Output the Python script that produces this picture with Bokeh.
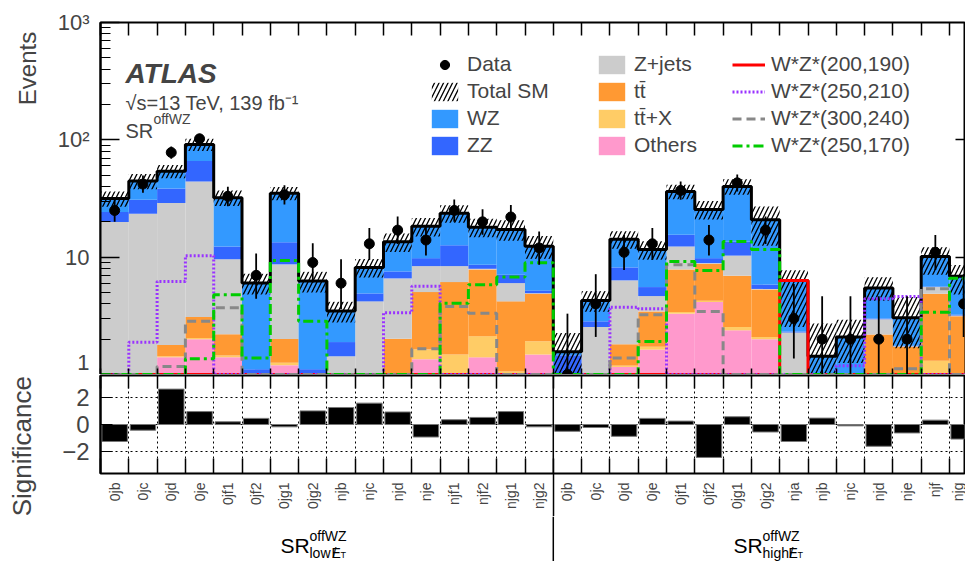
import numpy as np
from bokeh.plotting import figure
from bokeh.models import (Range1d, LogAxis, LinearAxis, FixedTicker, Legend,
                          LegendItem, Label, Span)
from bokeh.layouts import column
from bokeh.embed import file_html
from bokeh.resources import INLINE
from bokeh.core.properties import value

FONT = "Liberation Sans"
NBSP = "\u00a0"

# ---------------- data ----------------
low_bins = ["0jb", "0jc", "0jd", "0je", "0jf1", "0jf2", "0jg1", "0jg2",
            "njb", "njc", "njd", "nje", "njf1", "njf2", "njg1", "njg2"]
high_bins = ["0jb", "0jc", "0jd", "0je", "0jf1", "0jf2", "0jg1", "0jg2",
             "nja", "njb", "njc", "njd", "nje", "njf", "njg"]
bin_labels = low_bins + high_bins

# background components (events per bin), stacking order bottom -> top
others = [0.3, 0.4, 1.39, 1.99, 1.39, 0.3, 1.19, 0.3, 0.2, 0.2, 0.4, 1.34, 0.6, 1.39, 0.5, 1.47,
          0.1, 0.2, 1.15, 1.62, 3.29, 4.14, 2.37, 1.99, 0.1, 0.1, 0.1, 0.2, 0.2, 0.5, 0.3]
ttx = [0.05, 0.05, 0.03, 0.05, 0.05, 0.05, 0.06, 0.05, 0.05, 0.1, 0.3, 0.28, 0.87, 0.72, 0.55, 0.44,
       0.05, 0.05, 0.03, 0.09, 0.11, 0.1, 0.16, 0.09, 0.05, 0.02, 0.02, 0.1, 0.1, 0.8, 0.3]
ttbar = [0.2, 0.3, 0.35, 1.04, 0.75, 0.2, 0.75, 0.25, 0.3, 0.4, 1.31, 3.41, 4.65, 5.74, 3.14, 2.96,
         0.1, 0.2, 0.62, 1.73, 4.45, 4.55, 4.41, 3.22, 0.1, 0.1, 0.2, 1.88, 1.41, 3.57, 2.52]
zjets = [19.35, 22.65, 27.1, 41.1, 7.4, 0.3, 6.67, 0.3, 0.87, 3.49, 4.57, 3.35, 2.26, 0.1, 1.81, 0.05,
         0.1, 2.08, 4.53, 1.21, 4.45, 0.1, 3.36, 0.05, 2.02, 0.1, 0.1, 0.76, 0.02, 0.68, 0.05]
zz = [4.3, 7.5, 9.6, 21.7, 2.7, 0.25, 4.73, 0.2, 0.46, 0.71, 0.97, 1.42, 4.22, 0.66, 1.08, 0.28,
      1.1, 0.3, 1.84, 0.9, 3.2, 0.91, 3.3, 0.5, 0.05, 0.2, 0.3, 0.05, 0.02, 0.05, 0.05]
wz = [7.4, 13.6, 15.6, 25.5, 19.8, 4.9, 21.7, 5.14, 1.58, 3.27, 5.95, 8.5, 11.1, 9.39, 10.12, 7.2,
      0.1, 1.44, 6.03, 6.05, 20.8, 15.7, 26.5, 14.95, 4.01, 0.9, 1.36, 2.45, 1.29, 4.5, 3.63]
# relative total-SM uncertainty (up / down)
unc_up = [0.15, 0.15, 0.13, 0.12, 0.15, 0.2, 0.13, 0.2, 0.2, 0.18, 0.18, 0.18, 0.17, 0.18, 0.2, 0.22,
          0.45, 0.2, 0.17, 0.18, 0.14, 0.18, 0.15, 0.3, 0.22, 0.9, 0.4, 0.24, 0.5, 0.2, 0.25]
unc_dn = [0.15, 0.15, 0.13, 0.12, 0.15, 0.2, 0.13, 0.2, 0.2, 0.18, 0.18, 0.18, 0.17, 0.18, 0.2, 0.22,
          0.45, 0.2, 0.17, 0.18, 0.14, 0.18, 0.15, 0.4, 0.6, 0.5, 0.4, 0.22, 0.45, 0.3, 0.3]

data = [25, 42, 78, 102, 33, 7, 34, 9, 6, 13, 17, 14, 25, 20, 22, 12,
        1, 4, 11, 13, 37, 14, 43, 17, 3, 2, 2, 2, 2, 11, 4]
data_lo = [19.99, 35.43, 69.04, 91.95, 27.22, 4.42, 28.13, 6.08, 3.62, 9.47, 12.93, 10.33, 19.99, 15.56, 17.33, 8.61,
           0.17, 2.09, 7.77, 9.47, 30.86, 10.33, 36.35, 12.93, 1.37, 0.71, 0.71, 0.71, 0.71, 7.77, 2.09]
data_hi = [31.08, 49.61, 87.87, 112.8, 39.84, 10.77, 40.93, 13.11, 9.58, 17.70, 22.18, 18.83, 31.08, 25.55, 27.77, 16.56,
           3.30, 7.16, 15.42, 17.70, 44.20, 18.83, 50.69, 22.18, 5.92, 4.64, 4.64, 4.64, 4.64, 15.42, 7.16]

significance = [-1.25, -0.42, 2.6, 0.95, 0.2, 0.45, -0.17, 1.0, 1.25, 1.57, 0.92, -0.92, 0.35, 0.52, 0.95, -0.17,
                -0.5, -0.22, -0.87, 0.45, 0.25, -2.42, 0.57, -0.55, -1.25, 0.47, -0.1, -1.6, -0.62, 0.32, -1.07]

sig_200_190 = [0.5] * 24 + [6.33] + [0.5] * 6
sig_250_210 = [0.3, 1.88, 6.21, 10.3, 0.5, 0.3, 0.3, 0.3, 0.3, 0.5, 3.36, 5.66, 0.5, 0.5, 0.3, 0.3,
               0.3, 0.3, 3.75, 3.63, 0.5, 0.3, 0.3, 0.3, 0.3, 0.5, 1.19, 4.42, 4.62, 0.5, 0.3]
sig_300_240 = [0.2, 0.3, 1.17, 2.85, 3.7, 0.5, 0.3, 0.3, 0.2, 0.3, 0.5, 1.66, 3.8, 3.33, 0.5, 0.3,
               0.2, 0.3, 1.38, 3.23, 8.6, 3.44, 0.5, 0.3, 0.2, 0.3, 0.5, 0.5, 1.12, 5.38, 0.5]
sig_250_170 = [0.3, 0.3, 0.3, 1.36, 4.78, 1.38, 9.37, 2.85, 0.5, 0.3, 0.3, 0.5, 4.05, 5.82, 6.76, 8.96,
               0.5, 0.3, 0.3, 1.91, 9.19, 7.7, 13.6, 11.6, 0.5, 0.3, 0.3, 0.3, 0.5, 3.4, 6.62]

# ---------------- helpers ----------------
n = len(bin_labels)
edges = np.arange(n + 1, dtype=float)
centers = edges[:-1] + 0.5
YMIN, YMAX = 1.0, 1000.0
XMAX = 30.53
SMIN, SMAX = -3.6, 3.6
N_LOW = len(low_bins)
DIVIDER_LEN = 43


def step_xy(vals):
    xs = np.repeat(edges, 2)[1:-1]
    ys = np.repeat(np.asarray(vals, dtype=float), 2)
    return xs, ys


def style_outline(p):
    p.outline_line_color = "black"
    p.outline_line_width = 2
    p.grid.visible = False
    p.background_fill_color = "white"
    p.border_fill_color = "white"


def tick_only(ax, positions, length_in, length_out=0, width=1.5):
    """Axis that only draws tick marks (as minor ticks, no labels)."""
    ax.ticker = FixedTicker(ticks=[], minor_ticks=list(positions))
    ax.minor_tick_in = length_in
    ax.minor_tick_out = length_out
    ax.minor_tick_line_width = width
    ax.minor_tick_line_color = "black"
    ax.major_tick_in = 0
    ax.major_tick_out = 0
    ax.major_label_standoff = 0
    ax.axis_line_color = None
    return ax


# ---------------- main panel ----------------
p1 = figure(width=965, height=374, x_range=Range1d(0, XMAX), y_range=Range1d(YMIN, YMAX),
            y_axis_type="log", output_backend="svg", toolbar_location=None,
            min_border_left=100, min_border_right=1, min_border_top=22, min_border_bottom=0)
style_outline(p1)

decade_minor = [m * 10 ** e for e in range(0, 3) for m in range(2, 10)]

ly = p1.yaxis[0]
ly.ticker = FixedTicker(ticks=[1, 10, 100, 1000], minor_ticks=decade_minor)
ly.major_label_overrides = {1: "1", 10: "10", 100: "10²", 1000: "10³"}
ly.major_label_text_font = FONT
ly.major_label_text_font_size = "22px"
ly.major_tick_in = 19
ly.major_tick_out = 0
ly.minor_tick_in = 10
ly.minor_tick_out = 0
ly.major_tick_line_width = 1.5
ly.minor_tick_line_width = 1.2
ly.axis_line_width = 2
ly.major_label_standoff = 11
# title pushed to the top end of the axis (ROOT style) with leading no-break spaces
ly.axis_label = NBSP * 39 + "Events"
ly.axis_label_text_font = FONT
ly.axis_label_text_font_size = "24px"
ly.axis_label_text_font_style = "normal"
ly.axis_label_standoff = 14

tick_only(p1.xaxis[0], edges, 6)
p1.add_layout(tick_only(LinearAxis(), edges, 13), "above")
p1.add_layout(tick_only(LogAxis(), [10, 100], 9), "right")

# stacked backgrounds
components = [("Others", others, "#ff99cc"), ("tt\u0304+X", ttx, "#ffcc66"),
              ("tt\u0304", ttbar, "#ff9933"), ("Z+jets", zjets, "#cccccc"),
              ("ZZ", zz, "#3366ff"), ("WZ", wz, "#3399ff")]
cum = np.full(n, 1e-2)
rend = {}
for name, vals, col in components:
    top = cum + np.asarray(vals, dtype=float)
    rend[name] = p1.quad(left=edges[:-1], right=edges[1:], bottom=cum, top=top,
                         fill_color=col, line_color=None)
    cum = top
total = cum

r_hatch = p1.quad(left=edges[:-1], right=edges[1:],
                  bottom=np.maximum(total * (1 - np.asarray(unc_dn)), 1e-2),
                  top=total * (1 + np.asarray(unc_up)),
                  fill_alpha=0, line_color=None, hatch_pattern="/", hatch_color="black",
                  hatch_weight=1.3, hatch_scale=9)
tx, ty = step_xy(total)
p1.line(tx, ty, line_color="black", line_width=3)

signals = [("W*Z*(200,190)", sig_200_190, "#ff0000", "solid"),
           ("W*Z*(250,210)", sig_250_210, "#9933ff", "2 2"),
           ("W*Z*(300,240)", sig_300_240, "#888888", "9 5"),
           ("W*Z*(250,170)", sig_250_170, "#00cc00", "10 4 3 4")]
sig_r = []
for name, vals, col, dash in signals:
    sx, sy = step_xy(np.maximum(np.asarray(vals, dtype=float), YMIN))
    sig_r.append((name, p1.line(sx, sy, line_color=col, line_width=3, line_dash=dash)))

p1.segment(x0=centers, y0=data_lo, x1=centers, y1=data_hi, line_color="black", line_width=1.8)
r_data = p1.scatter(centers, data, size=10, color="black")

legend_common = dict(padding=0, margin=0, spacing=3, glyph_width=33, glyph_height=23,
                     label_height=23, label_standoff=6, label_text_font=FONT,
                     label_text_font_size="21px", border_line_color=None,
                     background_fill_alpha=0, orientation="vertical")
leg1 = Legend(items=[LegendItem(label="Data", renderers=[r_data]),
                     LegendItem(label="Total SM", renderers=[r_hatch]),
                     LegendItem(label="WZ", renderers=[rend["WZ"]]),
                     LegendItem(label="ZZ", renderers=[rend["ZZ"]])],
              location=(328, 217), **legend_common)
leg2 = Legend(items=[LegendItem(label="Z+jets", renderers=[rend["Z+jets"]]),
                     LegendItem(label="tt\u0304", renderers=[rend["tt\u0304"]]),
                     LegendItem(label="tt\u0304+X", renderers=[rend["tt\u0304+X"]]),
                     LegendItem(label="Others", renderers=[rend["Others"]])],
              location=(495, 217), **legend_common)
leg3 = Legend(items=[LegendItem(label=nm, renderers=[r]) for nm, r in sig_r],
              location=(632, 217), **legend_common)
for lg in (leg1, leg2, leg3):
    p1.add_layout(lg, "center")

p1.add_layout(Label(x=0.88, y=365, text="ATLAS", text_font=FONT, text_font_size="28px",
                    text_font_style="bold italic", text_baseline="alphabetic"))
p1.add_layout(Label(x=0.88, y=207, text="\u221as=13 TeV, 139 fb\u207b\u00b9", text_font=FONT,
                    text_font_size="20px", text_baseline="alphabetic"))
p1.add_layout(Label(x=0.88, y=120, text="SR", text_font=FONT, text_font_size="20px",
                    text_baseline="alphabetic"))
p1.add_layout(Label(x=1.87, y=150, text="offWZ", text_font=FONT, text_font_size="14px",
                    text_baseline="alphabetic"))

# ---------------- significance panel (+ bin labels) ----------------
p2 = figure(width=965, height=142, x_range=p1.x_range, y_range=Range1d(SMIN, SMAX),
            output_backend="svg", toolbar_location=None,
            min_border_left=100, min_border_right=1, min_border_top=1, min_border_bottom=43)
style_outline(p2)

ry = p2.yaxis[0]
ry.ticker = FixedTicker(ticks=[-2, 0, 2])
ry.major_label_overrides = {-2: "\u22122", 0: "0", 2: "2"}
ry.major_label_text_font = FONT
ry.major_label_text_font_size = "24px"
ry.major_tick_in = 12
ry.major_tick_out = 0
ry.minor_tick_line_color = None
ry.axis_line_width = 2
ry.major_label_standoff = 11
# title shifted down (as in the reference) with trailing no-break spaces
ry.axis_label = "Significance" + NBSP * 6
ry.axis_label_text_font = FONT
ry.axis_label_text_font_size = "26px"
ry.axis_label_text_font_style = "normal"
ry.axis_label_standoff = 22

# first below axis: inward bin-edge ticks only
tick_only(p2.xaxis[0], edges, 15)
# second below axis: bin names, plus the long divider line between the two SR groups
lab_ax = LinearAxis(ticker=FixedTicker(ticks=list(centers), minor_ticks=[float(N_LOW)]),
                    major_label_overrides={float(c): lab for c, lab in zip(centers, bin_labels)},
                    major_label_orientation=np.pi / 2, major_label_text_font=FONT,
                    major_label_text_font_size="14px", major_label_standoff=9 - DIVIDER_LEN,
                    major_tick_in=0, major_tick_out=0, minor_tick_in=0,
                    minor_tick_out=DIVIDER_LEN, minor_tick_line_width=1.5,
                    minor_tick_line_color="black", axis_line_color=None)
p2.add_layout(lab_ax, "below")
p2.add_layout(tick_only(LinearAxis(), edges, 13), "above")

p2.xgrid.visible = True
p2.xgrid.ticker = FixedTicker(ticks=list(edges))
p2.ygrid.visible = True
for g in (p2.xgrid, p2.ygrid):
    g.grid_line_color = "black"
    g.grid_line_dash = "2 3"
    g.grid_line_width = 1

p2.vbar(x=centers, top=significance, bottom=0, width=0.9, fill_color="black",
        line_color="#777777", line_width=1)
p2.add_layout(Span(location=N_LOW, dimension="height", line_color="black", line_width=1.5))

# ---------------- region label strip ----------------
p3 = figure(width=965, height=45, x_range=p1.x_range, y_range=Range1d(0, 1),
            output_backend="svg", toolbar_location=None, x_axis_location=None,
            y_axis_location=None, min_border_left=100, min_border_right=1,
            min_border_top=0, min_border_bottom=0)
p3.outline_line_color = None
p3.grid.visible = False
p3.segment(x0=[N_LOW], y0=[0], x1=[N_LOW], y1=[1], line_color="black", line_width=1.5)


def strip_y(px):
    """data y in the 45 px strip for a page position px (strip starts at 516)"""
    return (561 - px) / 45.0


def piece(xa, txt, px, xoff, size):
    p3.text(x=[xa], y=[strip_y(px)], text=[txt], x_offset=xoff, text_font=value(FONT),
            text_font_size=value(size), text_baseline="alphabetic")


for xa, sub, soff in ((6.36, "low", 22), (22.37, "high", 26)):
    piece(xa, "SR", 545, 0, "21px")
    piece(xa, "offWZ", 535, 29, "14px")
    piece(xa, sub, 552, 29, "14px")
    piece(xa, "E", 552, 29 + soff, "14px")
    piece(xa, "/", 552, 30 + soff, "14px")
    piece(xa, "T", 554, 38 + soff, "9px")

layout = column(p1, p2, p3)
open("out.html", "w").write(file_html(layout, INLINE))
